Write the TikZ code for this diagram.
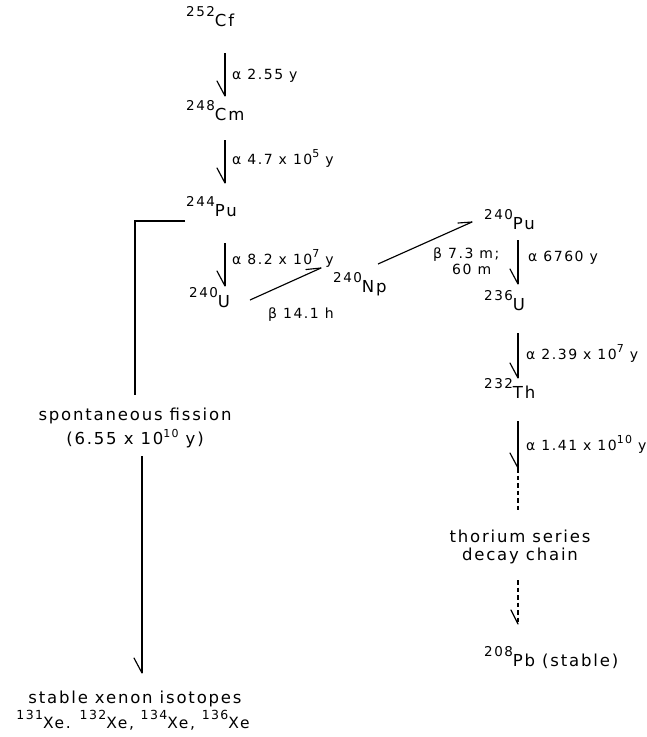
\documentclass[tikz,border=0pt]{standalone}
\usepackage{fontspec}
\setmainfont{DejaVu Sans}[LetterSpace=11]
\newcommand{\iso}[2]{\raisebox{10pt}{\fontsize{13.5}{14}\selectfont #1}#2}
\newcommand{\isos}[2]{\raisebox{9pt}{\fontsize{12.5}{13}\selectfont #1}#2}
\newcommand{\pw}[1]{\raisebox{6.5pt}{\fontsize{11}{11}\selectfont #1}}
\begin{document}
\begin{tikzpicture}[x=1pt,y=-1pt,
  every node/.style={inner sep=0pt, font=\fontsize{16.5}{19}\selectfont},
  isonode/.style={anchor=base west},
  lbl/.style={anchor=base west, font=\fontsize{14}{17}\selectfont},
  ctr/.style={anchor=base},
  plain/.style={line width=1.15pt},
  dashline/.style={plain, dash pattern=on 4.5pt off 3pt},
  barbline/.style={line width=1.15pt, line cap=round}]
\useasboundingbox (0,0) rectangle (647,737);
% isotopes
\node[isonode] (cf) at (186,26) {\iso{252}{Cf}};
\node[isonode] (cm) at (186,120) {\iso{248}{Cm}};
\node[isonode] (pu244) at (186,216) {\iso{244}{Pu}};
\node[isonode] (u240) at (189,307) {\iso{240}{U}};
\node[isonode] (np) at (333,292) {\iso{240}{Np}};
\node[isonode] (pu240) at (484,229) {\iso{240}{Pu}};
\node[isonode] (u236) at (484,310) {\iso{236}{U}};
\node[isonode] (th) at (484,398) {\iso{232}{Th}};
\node[isonode] (pb) at (484,666) {\iso{208}{Pb (stable)}};
% labels
\node[lbl] (l1) at (232,79) {α 2.55 y};
\node[lbl] (l2) at (232,164) {α 4.7 x 10\pw{5} y};
\node[lbl] (l3) at (232,264) {α 8.2 x 10\pw{7} y};
\node[lbl] (l4) at (268,318) {β 14.1 h};
\node[lbl] (l5) at (433,258) {β 7.3 m;};
\node[lbl] (l5b) at (452,274) {60 m};
\node[lbl] (l6) at (528,261) {α 6760 y};
\node[lbl] (l7) at (526,359) {α 2.39 x 10\pw{7} y};
\node[lbl] (l8) at (526,450) {α 1.41 x 10\pw{10} y};
\node[ctr] (thor1) at (520,542) {thorium series};
\node[ctr] (thor2) at (520,560) {decay chain};
\node[ctr] (sf1) at (135,420) {spontaneous fission};
\node[ctr] (sf2) at (135,444) {(6.55 x 10\pw{10} y)};
\node[ctr] (xe1) at (135,703) {stable xenon isotopes};
\node[ctr, font=\fontsize{15.5}{18}\selectfont] (xe2) at (133,728) {\isos{131}{Xe}. \isos{132}{Xe}, \isos{134}{Xe}, \isos{136}{Xe}};
% arrow end points
\coordinate (a1s) at (225,53);  \coordinate (a1e) at (225,96);
\coordinate (a2s) at (225,140); \coordinate (a2e) at (225,183);
\coordinate (a3s) at (225,243); \coordinate (a3e) at (225,286);
\coordinate (b1s) at (250,300); \coordinate (b1e) at (321,268);
\coordinate (b2s) at (378,264); \coordinate (b2e) at (472,222);
\coordinate (a4s) at (518,240); \coordinate (a4e) at (518,284);
\coordinate (a5s) at (518,333); \coordinate (a5e) at (518,378);
\coordinate (a6s) at (518,421); \coordinate (a6e) at (518,468);
\coordinate (d1e) at (518,512);
\coordinate (d2s) at (518,580); \coordinate (d2e) at (518,624);
\coordinate (f0) at (185,221); \coordinate (f1) at (135,221); \coordinate (f2) at (135,395);
\coordinate (xs) at (142,456); \coordinate (xe) at (142,673);
% connectors with one-sided barbs
\foreach \s/\e in {a1s/a1e, a2s/a2e, a3s/a3e, a4s/a4e, a5s/a5e, a6s/a6e, xs/xe}{
  \draw[plain] (\s) -- (\e);
  \draw[barbline] (\e) -- ++(-8,-15);
}
\draw[plain] (b1s) -- (b1e);
\draw[barbline] (b1e) -- ++(-15,1.5);
\draw[plain] (b2s) -- (b2e);
\draw[barbline] (b2e) -- ++(-14,1);
\draw[dashline] (a6e) -- (d1e);
\draw[dashline] (d2s) -- (d2e);
\draw[barbline] (d2e) -- ++(-7,-14);
\draw[plain] (f0) -- (f1) -- (f2);
\end{tikzpicture}
\end{document}
